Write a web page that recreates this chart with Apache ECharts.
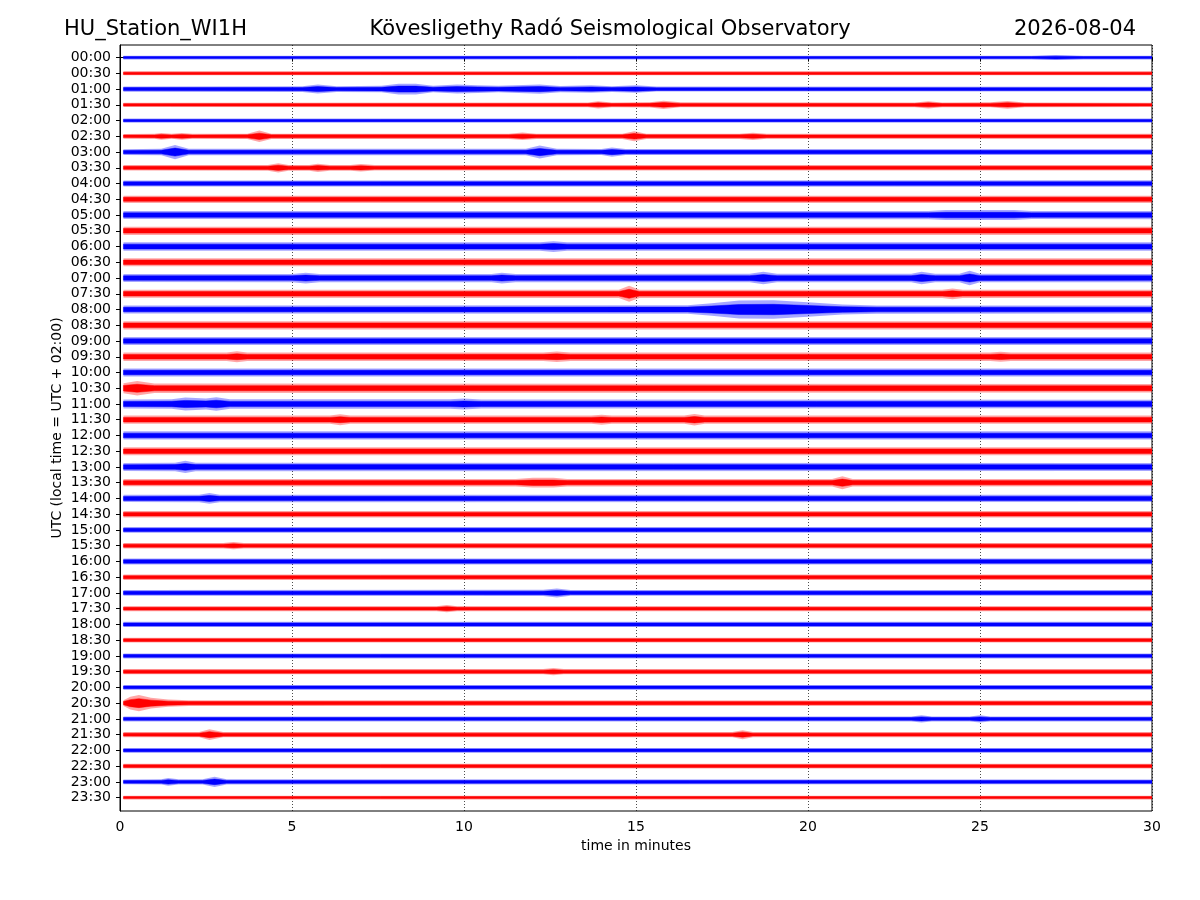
<!DOCTYPE html>
<html>
<head>
<meta charset="utf-8">
<title>HU_Station_WI1H helicorder</title>
<script src="https://cdn.jsdelivr.net/npm/echarts@6/dist/echarts.min.js"></script>
<style>
  html, body { margin: 0; padding: 0; background: #fff; }
  #chart { width: 1200px; height: 900px; }
</style>
</head>
<body>
<div id="chart"></div>
<script>
// one trace every 30 minutes
var traceLabels = [
  '00:00','00:30','01:00','01:30','02:00','02:30','03:00','03:30',
  '04:00','04:30','05:00','05:30','06:00','06:30','07:00','07:30',
  '08:00','08:30','09:00','09:30','10:00','10:30','11:00','11:30',
  '12:00','12:30','13:00','13:30','14:00','14:30','15:00','15:30',
  '16:00','16:30','17:00','17:30','18:00','18:30','19:00','19:30',
  '20:00','20:30','21:00','21:30','22:00','22:30','23:00','23:30'
];
var xTicks = [0, 5, 10, 15, 20, 25, 30];

// envelope of each trace, [minute, half amplitude]
// (amplitude counts; AMP_PER_ROW counts = one row spacing)
var AMP_PER_ROW = 15.77;
var PEAK_FACTOR = 1.8; // spikes reach about this much past the solid core
var traceEnv = [
  [[0.1,1],[26.5,1],[27.2,1.4],[28,1],[30,1]],
  [[0.1,1.1],[30,1.1]],
  [[0.1,1.5],[5.3,1.6],[5.75,2.5],[6.3,1.6],[7.6,1.8],[8.1,3],[8.6,3],[9.1,1.8],[9.8,2.5],[10.4,2.2],[11,1.8],[12.2,2.6],[12.8,1.7],[13.7,2.1],[14.3,1.6],[15,2.1],[15.6,1.4],[30,1.3]],
  [[0.1,1.2],[13.6,1.3],[13.9,2],[14.3,1.3],[15.4,1.5],[15.8,2.3],[16.3,1.4],[23.1,1.3],[23.5,2],[23.9,1.3],[25.3,1.4],[25.8,2.2],[26.3,1.3],[30,1.2]],
  [[0.1,1.1],[30,1.1]],
  [[0.1,1.3],[1,1.4],[1.2,1.9],[1.5,1.4],[1.8,1.9],[2.1,1.4],[3.7,1.5],[4.05,3.2],[4.4,1.5],[11.3,1.5],[11.7,2.1],[12.1,1.5],[14.6,1.5],[14.95,2.8],[15.3,1.5],[18,1.5],[18.4,2],[18.8,1.4],[30,1.4]],
  [[0.1,1.6],[1.2,1.8],[1.6,4],[2,1.8],[11.8,1.8],[12.2,3.6],[12.7,1.8],[14,1.7],[14.3,2.6],[14.7,1.7],[30,1.6]],
  [[0.1,1.5],[4.3,1.6],[4.6,2.6],[4.9,1.6],[5.5,1.6],[5.75,2.3],[6.1,1.6],[6.7,1.6],[7,2.1],[7.4,1.5],[30,1.5]],
  [[0.1,1.7],[30,1.8]],
  [[0.1,2],[30,2]],
  [[0.1,2.2],[23.5,2.3],[24,2.8],[26,2.8],[26.5,2.2],[30,2.3]],
  [[0.1,2.3],[30,2.3]],
  [[0.1,2.4],[12.2,2.4],[12.6,3],[13,2.4],[30,2.4]],
  [[0.1,2.2],[30,2.2]],
  [[0.1,2.2],[5,2.3],[5.4,3],[5.8,2.3],[10.8,2.3],[11.1,3],[11.5,2.3],[18.3,2.4],[18.7,3.5],[19.1,2.4],[23,2.4],[23.3,3.5],[23.7,2.4],[24.4,2.4],[24.7,4],[25,2.4],[30,2.3]],
  [[0.1,2.2],[14.5,2.3],[14.8,4.5],[15.1,2.3],[23.9,2.3],[24.2,3],[24.5,2.3],[30,2.2]],
  [[0.1,2.2],[16.5,2.4],[17.2,3.5],[18,5],[19,5.2],[20,4],[21,2.8],[22,2.3],[30,2.2]],
  [[0.1,2.3],[30,2.3]],
  [[0.1,2.2],[30,2.2]],
  [[0.1,2.3],[3.1,2.3],[3.4,3],[3.7,2.3],[12.3,2.4],[12.7,2.9],[13.1,2.3],[25.3,2.3],[25.6,2.8],[25.9,2.3],[30,2.3]],
  [[0.1,2.2],[30,2.2]],
  [[0.1,2.8],[0.5,4],[1,2.6],[30,2.4]],
  [[0.1,2.5],[1.5,2.7],[1.9,3.6],[2.5,3],[2.8,3.8],[3.2,2.6],[9.6,2.6],[10,3],[10.5,2.5],[30,2.4]],
  [[0.1,2.3],[6.1,2.3],[6.4,3],[6.7,2.3],[13.7,2.3],[14,2.8],[14.3,2.3],[16.4,2.3],[16.7,3.2],[17,2.3],[30,2.3]],
  [[0.1,2.3],[30,2.3]],
  [[0.1,2.2],[30,2.2]],
  [[0.1,2.2],[1.6,2.4],[1.9,3.4],[2.2,2.4],[30,2.2]],
  [[0.1,2],[11.5,2.1],[12,2.7],[12.6,2.7],[13,2.1],[20.7,2.1],[21,3.6],[21.3,2.1],[30,2]],
  [[0.1,2],[2.3,2.1],[2.6,3],[2.9,2.1],[30,2]],
  [[0.1,1.8],[30,1.8]],
  [[0.1,1.6],[30,1.6]],
  [[0.1,1.5],[3,1.5],[3.3,2],[3.6,1.5],[30,1.5]],
  [[0.1,1.7],[30,1.7]],
  [[0.1,1.5],[30,1.5]],
  [[0.1,1.6],[12.3,1.7],[12.7,2.5],[13.1,1.6],[30,1.6]],
  [[0.1,1.4],[9.2,1.4],[9.5,2],[9.8,1.4],[30,1.4]],
  [[0.1,1.5],[30,1.5]],
  [[0.1,1.3],[30,1.3]],
  [[0.1,1.4],[30,1.4]],
  [[0.1,1.5],[12.3,1.5],[12.6,2],[12.9,1.5],[30,1.5]],
  [[0.1,1.3],[30,1.3]],
  [[0.1,1.6],[0.3,3.5],[0.55,4.5],[0.9,3],[1.4,2],[2,1.6],[30,1.5]],
  [[0.1,1.4],[23,1.4],[23.3,2],[23.6,1.4],[24.7,1.4],[25,2],[25.3,1.4],[30,1.4]],
  [[0.1,1.4],[2.3,1.5],[2.6,3],[3,1.5],[17.8,1.5],[18.1,2.5],[18.4,1.4],[30,1.4]],
  [[0.1,1.3],[30,1.3]],
  [[0.1,1.3],[30,1.3]],
  [[0.1,1.3],[1.2,1.4],[1.4,2.2],[1.7,1.4],[2.4,1.4],[2.75,2.8],[3.1,1.4],[30,1.3]],
  [[0.1,1],[30,1]]
];

var chart = echarts.init(document.getElementById('chart'), null, { renderer: 'canvas' });
var FONT = 'DejaVu Sans';

function bandPoints(api, row, env, scale) {
  var top = [], bottom = [];
  for (var k = 0; k < env.length; k++) {
    var a = env[k][1] * scale / AMP_PER_ROW;
    top.push(api.coord([env[k][0], row - a]));
    bottom.unshift(api.coord([env[k][0], row + a]));
  }
  return top.concat(bottom);
}

function renderTrace(params, api) {
  var row = api.value(0);
  var env = traceEnv[row];
  var color = row % 2 === 0 ? '#0000ff' : '#ff0000';
  return {
    type: 'group',
    children: [{
      type: 'polygon',
      shape: { points: bandPoints(api, row, env, PEAK_FACTOR) },
      style: { fill: color, opacity: 0.35 }
    }, {
      type: 'polygon',
      shape: { points: bandPoints(api, row, env, 1) },
      style: { fill: color, stroke: color, lineWidth: 0.5 }
    }]
  };
}

var titleStyle = { fontFamily: FONT, fontSize: 21, fontWeight: 'normal', color: '#000' };

var option = {
  backgroundColor: '#fff',
  animation: false,
  title: [
    { text: 'HU_Station_WI1H', left: 64, top: 19, padding: 0, textStyle: titleStyle },
    { text: 'Kövesligethy Radó Seismological Observatory', left: 610, top: 19, padding: 0,
      textAlign: 'center', textStyle: titleStyle },
    { text: '2026-08-04', right: 64, top: 19, padding: 0, textStyle: titleStyle }
  ],
  grid: {
    left: 120, right: 48, top: 45, bottom: 89,
    show: true, borderColor: '#000', borderWidth: 1, backgroundColor: 'transparent'
  },
  xAxis: {
    type: 'value',
    min: 0, max: 30, interval: 5,
    name: 'time in minutes',
    nameLocation: 'middle',
    nameGap: 28,
    nameMoveOverlap: false,
    nameTextStyle: { fontFamily: FONT, fontSize: 14, color: '#000' },
    axisLine: { show: true, lineStyle: { color: '#000', width: 1 } },
    axisTick: { show: true, length: 4, lineStyle: { color: '#000' } },
    axisLabel: { fontFamily: FONT, fontSize: 14, color: '#000', margin: 9 },
    splitLine: { show: true, lineStyle: { color: '#000', width: 0.7, type: [1, 2] } }
  },
  yAxis: {
    type: 'value',
    inverse: true,
    min: -0.8, max: 47.85,
    name: 'UTC (local time = UTC + 02:00)',
    nameLocation: 'middle',
    nameGap: 56,
    nameMoveOverlap: false,
    nameTextStyle: { fontFamily: FONT, fontSize: 14, color: '#000' },
    axisLine: { show: true, lineStyle: { color: '#000', width: 1 } },
    axisTick: { show: true, length: 4, customValues: traceLabels.map(function (_, i) { return i; }),
      lineStyle: { color: '#000' } },
    axisLabel: {
      fontFamily: FONT, fontSize: 14, color: '#000', margin: 9,
      customValues: traceLabels.map(function (_, i) { return i; }),
      formatter: function (v) { return traceLabels[Math.round(v)]; }
    },
    splitLine: { show: false }
  },
  series: [{
    type: 'custom',
    renderItem: renderTrace,
    clip: true,
    dimensions: ['row'],
    encode: { y: 0 },
    data: traceLabels.map(function (_, i) { return [i]; })
  }]
};

chart.setOption(option);
</script>
</body>
</html>
